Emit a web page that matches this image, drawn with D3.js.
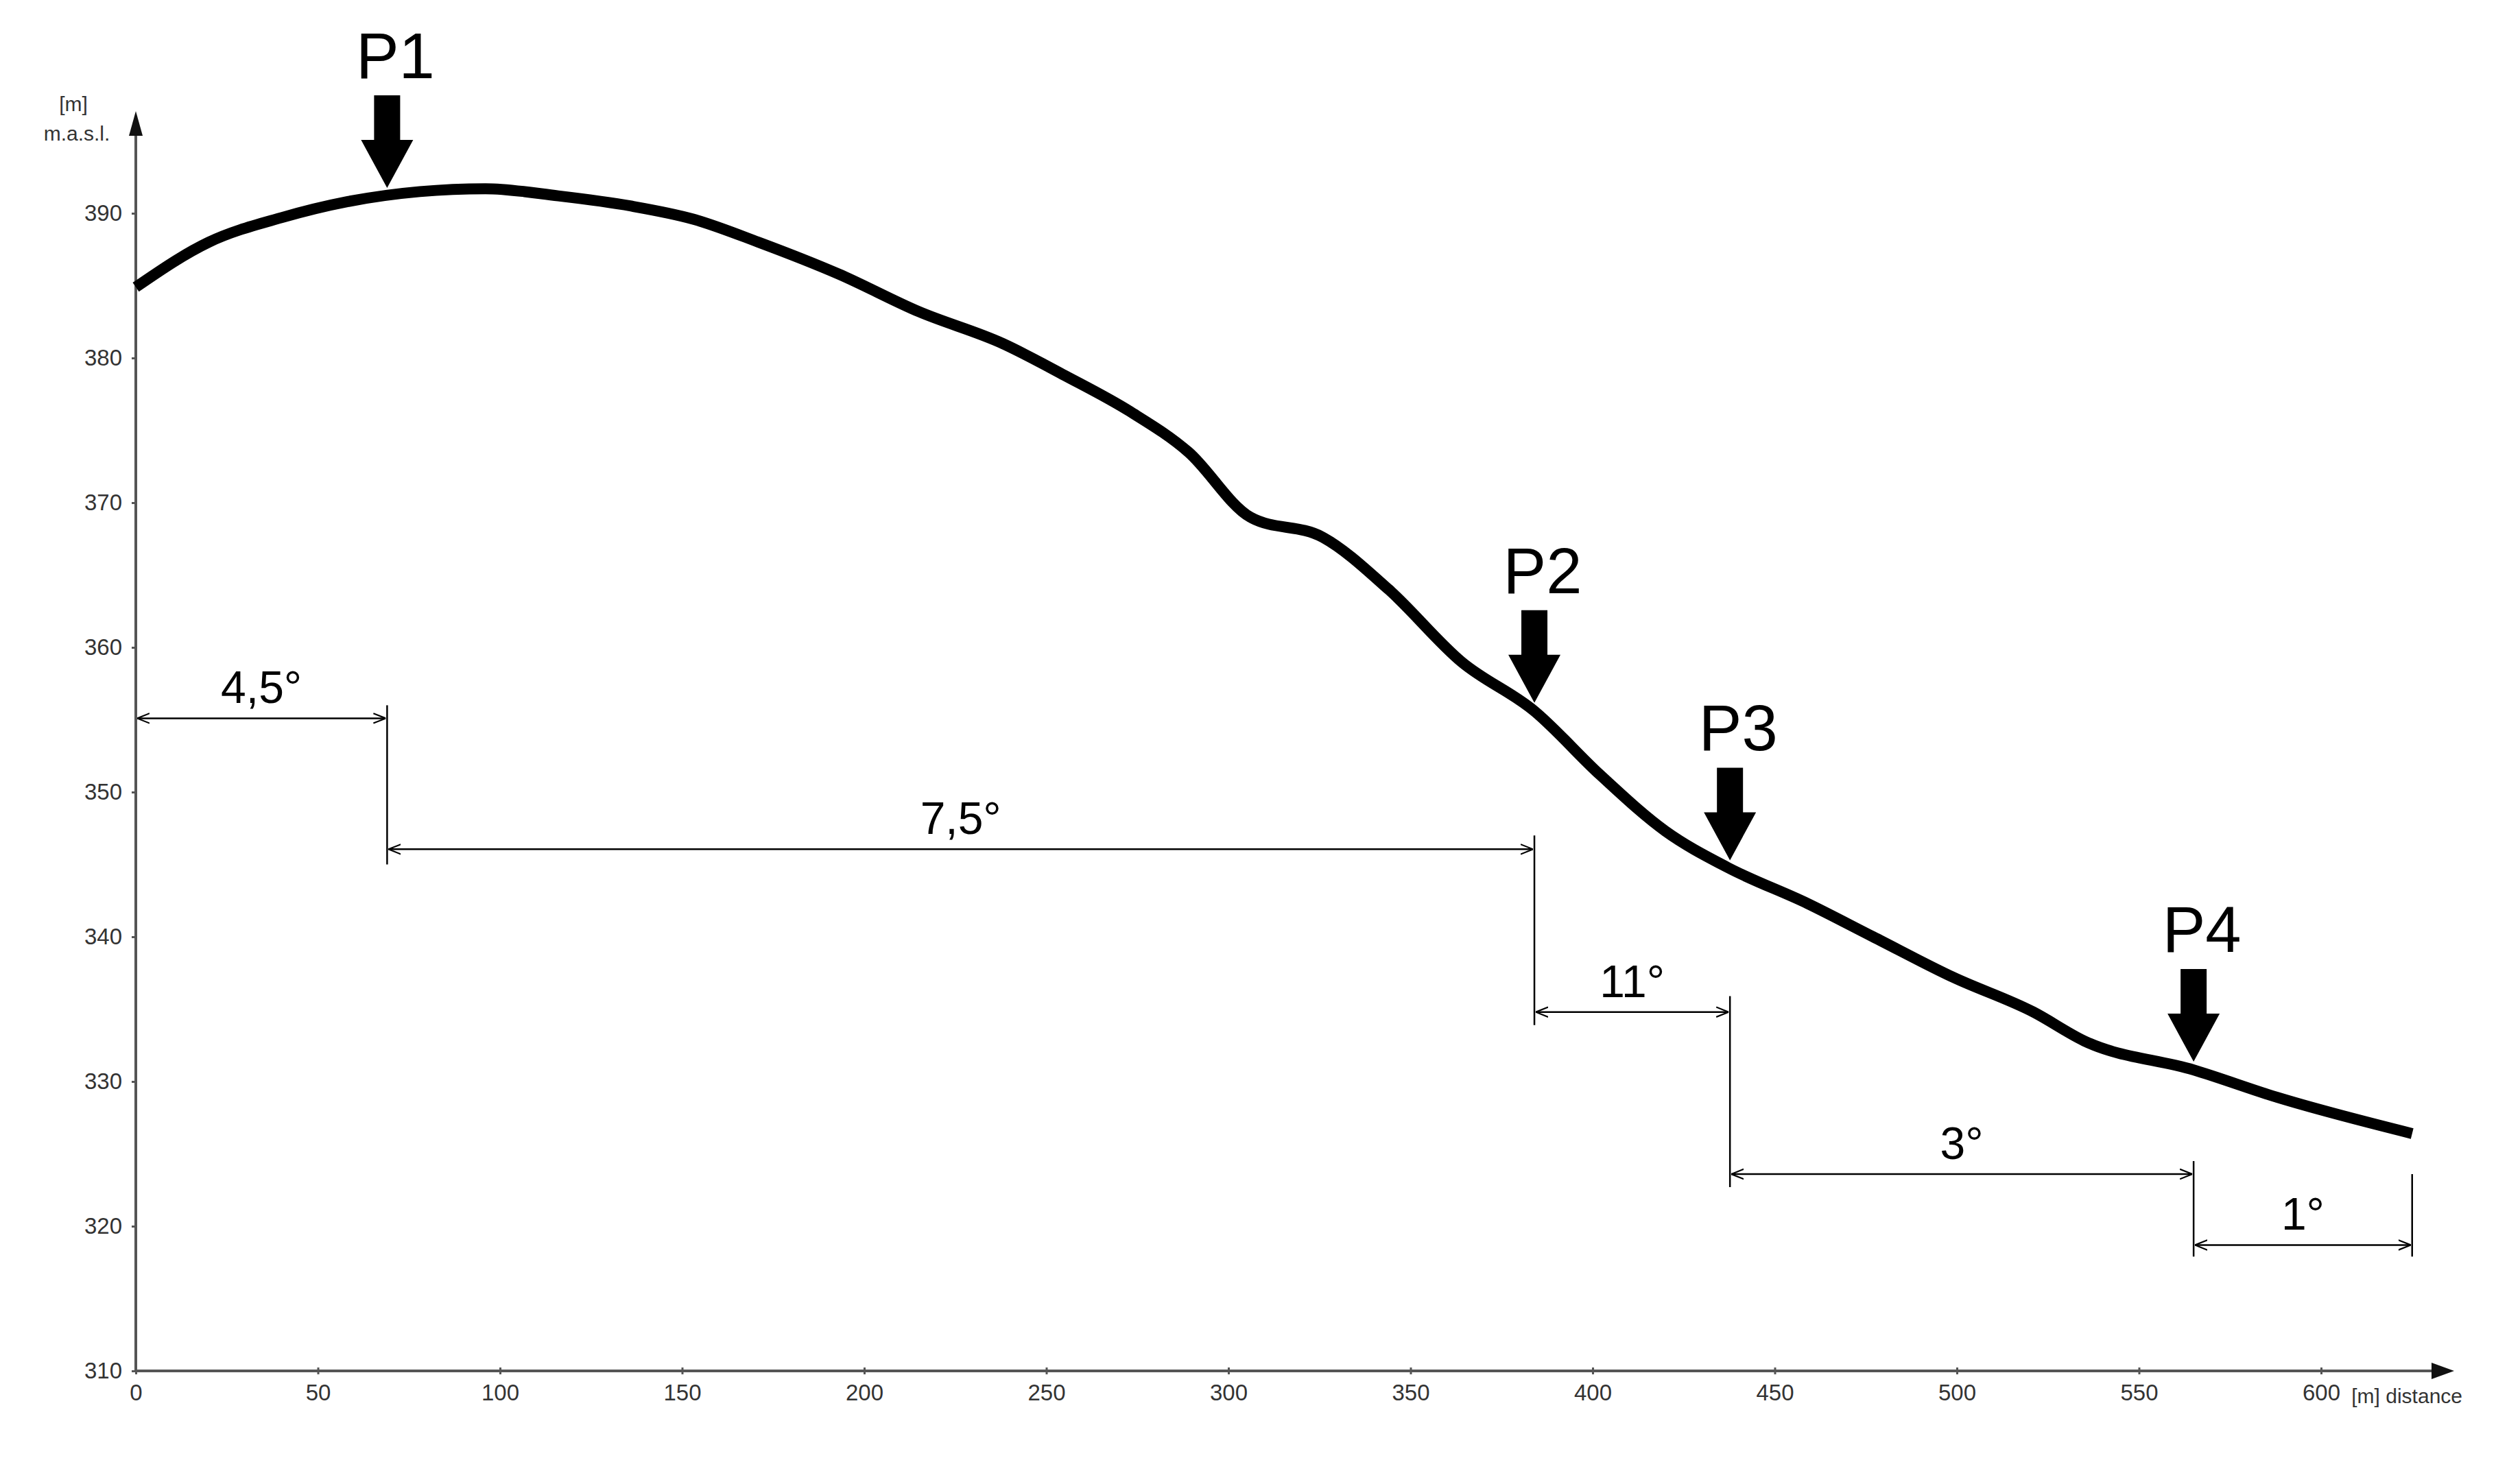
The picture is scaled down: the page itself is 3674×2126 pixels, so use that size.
<!DOCTYPE html><html><head><meta charset="utf-8"><script src="https://cdn.jsdelivr.net/npm/d3@7"></script>
<style>body{margin:0;background:#fff}</style></head><body><svg id="c" width="3674" height="2126"></svg>
<script>
const distance=[0,20,40,58,78,96,116,136,153,171,193,215,238,255,273,289,306,326,344,364,384,402,420,437,459,477,499,521,535,565,588,625];
const elevation=[384.9,388,389.7,390.8,391.5,391.7,391.2,390.5,389.6,388,385.8,383.2,381,378.8,376.3,373.5,369,367.6,364,359,355.6,351.2,347.3,344.8,342.3,340,337.2,334.8,332.8,330.8,328.9,326.4];
const xTicks=[0,50,100,150,200,250,300,350,400,450,500,550,600];
const yTicks=[310,320,330,340,350,360,370,380,390];
const pointNames=["P1","P2","P3","P4"];
const pointDist=[69,384,437.7,565];
const segLabels=["4,5°","7,5°","11°","3°","1°"];
const segStart=[0,69,384,437.7,565];
const segEnd=[69,384,437.7,565,625];
const segLevel=[355.1,346.05,334.8,323.6,318.7];
const tickTop=[356,347,335.9,324.5,323.6];
const tickBottom=[345,333.9,322.7,317.9,317.9];
const tickDist=[69,384,437.7,565,625];

const svg=d3.select("#c");
const x=d3.scaleLinear().domain([0,600]).range([198,3384]);
const y=d3.scaleLinear().domain([310,390]).range([1999,311]);
const font="Liberation Sans, Arial, sans-serif";
const axisCol="#555";
// axes
const xa=svg.append("g").attr("transform",`translate(0,${y(310)})`).call(d3.axisBottom(x).tickValues(xTicks).tickSize(10).tickPadding(10));
const ya=svg.append("g").attr("transform",`translate(${x(0)},0)`).call(d3.axisLeft(y).tickValues(yTicks).tickSize(6).tickPadding(14));
[xa,ya].forEach(g=>{g.select(".domain").remove();g.selectAll("line").attr("stroke",axisCol).attr("stroke-width",3);
 g.selectAll("text").attr("font-family",font).attr("font-size",33).attr("fill","#333");});
xa.selectAll(".tick line").attr("transform","translate(0,-5)");
svg.append("line").attr("x1",x(0)).attr("x2",3550).attr("y1",y(310)).attr("y2",y(310)).attr("stroke",axisCol).attr("stroke-width",4);
svg.append("path").attr("d",`M3578,${y(310)} L3545,${y(310)-12} L3545,${y(310)+12}Z`).attr("fill","#111");
svg.append("line").attr("x1",x(0)).attr("x2",x(0)).attr("y1",y(310)).attr("y2",190).attr("stroke",axisCol).attr("stroke-width",4);
svg.append("path").attr("d",`M${x(0)},162 L${x(0)-10},198 L${x(0)+10},198Z`).attr("fill","#111");
svg.append("text").attr("x",3590).attr("y",y(310)+47).attr("text-anchor","end").attr("font-family",font).attr("font-size",30).attr("fill","#333").text("[m] distance");
svg.append("text").attr("x",107).attr("y",162).attr("text-anchor","middle").attr("font-family",font).attr("font-size",30).attr("fill","#333").text("[m]");
svg.append("text").attr("x",112).attr("y",205).attr("text-anchor","middle").attr("font-family",font).attr("font-size",30).attr("fill","#333").text("m.a.s.l.");
// profile
svg.append("path").datum(distance.map((d,i)=>[d,elevation[i]])).attr("fill","none").attr("stroke","#000").attr("stroke-width",16).attr("stroke-linejoin","round")
 .attr("d",d3.line().x(d=>x(d[0])).y(d=>y(d[1])).curve(d3.curveMonotoneX));
// dimension lines
const defs=svg.append("defs");
defs.append("marker").attr("id","ah").attr("viewBox","0 0 10 10").attr("refX",10).attr("refY",5).attr("markerWidth",18).attr("markerHeight",18).attr("markerUnits","userSpaceOnUse").attr("orient","auto-start-reverse")
 .append("path").attr("d","M0,1 L10,5 L0,9").attr("fill","none").attr("stroke","#000").attr("stroke-width",1.2);
tickDist.forEach((d,i)=>svg.append("line").attr("x1",x(d)).attr("x2",x(d)).attr("y1",y(tickTop[i])).attr("y2",y(tickBottom[i])).attr("stroke","#000").attr("stroke-width",2.5));
segLabels.forEach((l,i)=>{
 svg.append("line").attr("x1",x(segStart[i])+2).attr("x2",x(segEnd[i])-2).attr("y1",y(segLevel[i])).attr("y2",y(segLevel[i])).attr("stroke","#000").attr("stroke-width",2.5)
  .attr("marker-start","url(#ah)").attr("marker-end","url(#ah)");
 svg.append("text").attr("x",(x(segStart[i])+x(segEnd[i]))/2).attr("y",y(segLevel[i])-22).attr("text-anchor","middle").attr("font-family",font).attr("font-size",66).text(l);
});
// P arrows
pointNames.forEach((p,i)=>{
 const d=pointDist[i]; const e=elevation.length;
 // elevation at the point on curve via interpolation of data
 let k=d3.bisectLeft(distance,d); k=Math.max(1,Math.min(distance.length-1,k));
 const t=(d-distance[k-1])/(distance[k]-distance[k-1]);
 const ev=elevation[k-1]+t*(elevation[k]-elevation[k-1]);
 const cx=x(d), tip=y(ev)-12;
 svg.append("path").attr("d",`M${cx-19},${tip-135} L${cx+19},${tip-135} L${cx+19},${tip-70} L${cx+38},${tip-70} L${cx},${tip} L${cx-38},${tip-70} L${cx-19},${tip-70}Z`).attr("fill","#000");
 svg.append("text").attr("x",cx+12).attr("y",tip-160).attr("text-anchor","middle").attr("font-family",font).attr("font-size",94).text(p);
});
</script></body></html>
